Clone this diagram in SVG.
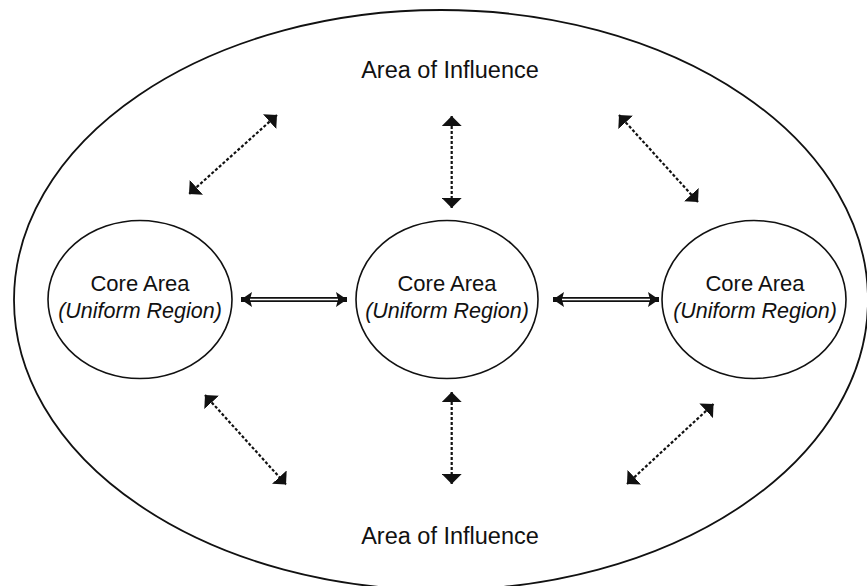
<svg xmlns="http://www.w3.org/2000/svg" width="867" height="586" viewBox="0 0 867 586">
<style>
.outline{fill:#fff;stroke:#111;stroke-width:1.8}
.core{fill:#fff;stroke:#111;stroke-width:1.6}
.t{font-family:"Liberation Sans",Arial,sans-serif;font-size:22px;fill:#111;text-anchor:middle}
.i{font-style:italic;font-size:21.5px}
.big{font-size:23.5px}
.dot{fill:none;stroke:#111;stroke-width:2.2;stroke-dasharray:3 2;marker-start:url(#tip);marker-end:url(#tip)}
.dbl{fill:none;stroke:#111;stroke-width:5;marker-start:url(#head);marker-end:url(#head)}
.dblin{fill:none;stroke:#fff;stroke-width:1.6}
</style>
<defs>
<marker id="tip" markerUnits="userSpaceOnUse" viewBox="0 0 10 20" markerWidth="10" markerHeight="20" refX="10" refY="10" orient="auto-start-reverse">
<path d="M0,0 L10,10 L0,20 Z" fill="#111"/>
</marker>
<marker id="head" markerUnits="userSpaceOnUse" viewBox="0 0 12 16" markerWidth="12" markerHeight="16" refX="11" refY="8" orient="auto-start-reverse">
<path d="M0,0.5 L11,8 L0,15.5 L2,8 Z" fill="#111"/>
</marker>
</defs>
<rect width="867" height="586" fill="#fff"/>
<g id="influence">
<ellipse class="outline" cx="441" cy="300" rx="427" ry="290"/>
<text class="t big" x="450" y="78">Area of Influence</text>
<text class="t big" x="450" y="544">Area of Influence</text>
</g>
<g id="core-left">
<ellipse class="core" cx="140" cy="299.5" rx="92" ry="79"/>
<text class="t" x="140" y="291">Core Area</text>
<text class="t i" x="140" y="318">(Uniform Region)</text>
</g>
<g id="core-center">
<ellipse class="core" cx="447" cy="299.5" rx="91" ry="79"/>
<text class="t" x="447" y="291">Core Area</text>
<text class="t i" x="447" y="318">(Uniform Region)</text>
</g>
<g id="core-right">
<ellipse class="core" cx="754" cy="299.5" rx="92" ry="79"/>
<text class="t" x="755" y="291">Core Area</text>
<text class="t i" x="755" y="318">(Uniform Region)</text>
</g>
<g id="connectors">
<line class="dbl" x1="241" y1="299.5" x2="347" y2="299.5"/>
<line class="dblin" x1="250" y1="299.5" x2="338" y2="299.5"/>
<line class="dbl" x1="553" y1="299.5" x2="659" y2="299.5"/>
<line class="dblin" x1="562" y1="299.5" x2="650" y2="299.5"/>
<line class="dot" x1="451.7" y1="116" x2="451.7" y2="208"/>
<line class="dot" x1="451.7" y1="392" x2="451.7" y2="484"/>
<line class="dot" x1="277" y1="115" x2="189" y2="194"/>
<line class="dot" x1="619" y1="115" x2="698" y2="202"/>
<line class="dot" x1="205" y1="395" x2="286" y2="484.5"/>
<line class="dot" x1="713.5" y1="404" x2="627" y2="484"/>
</g>
</svg>
